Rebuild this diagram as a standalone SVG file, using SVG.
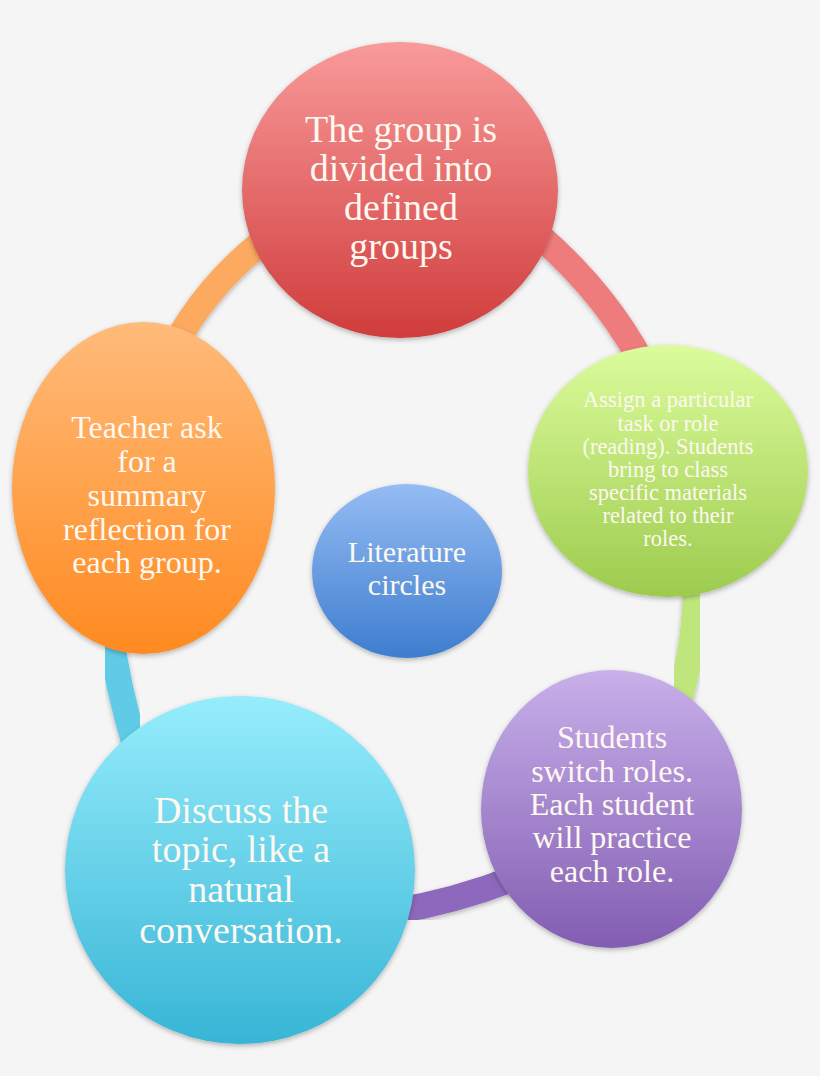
<svg xmlns="http://www.w3.org/2000/svg" width="820" height="1076" viewBox="0 0 820 1076">
<defs>
<filter id="sh" x="-20%" y="-20%" width="140%" height="140%">
<feDropShadow dx="0" dy="2" stdDeviation="2.5" flood-color="#000" flood-opacity="0.28"/>
</filter>
<linearGradient id="gRed" x1="0" y1="0" x2="0" y2="1"><stop offset="0" stop-color="#f99a9a"/><stop offset="1" stop-color="#d03c3c"/></linearGradient>
<linearGradient id="gGreen" x1="0" y1="0" x2="0" y2="1"><stop offset="0" stop-color="#dcfc9c"/><stop offset="1" stop-color="#9dcb4e"/></linearGradient>
<linearGradient id="gPurple" x1="0" y1="0" x2="0" y2="1"><stop offset="0" stop-color="#c8b0ea"/><stop offset="1" stop-color="#825db2"/></linearGradient>
<linearGradient id="gCyan" x1="0" y1="0" x2="0" y2="1"><stop offset="0" stop-color="#96edfc"/><stop offset="1" stop-color="#38b5d6"/></linearGradient>
<linearGradient id="gOrange" x1="0" y1="0" x2="0" y2="1"><stop offset="0" stop-color="#ffbb7a"/><stop offset="1" stop-color="#ff8a20"/></linearGradient>
<linearGradient id="gBlue" x1="0" y1="0" x2="0" y2="1"><stop offset="0" stop-color="#95bcf3"/><stop offset="1" stop-color="#3e7dcf"/></linearGradient>
</defs>
<style>
.conn{fill:none;stroke-width:26;filter:url(#sh)}
.node{filter:url(#sh)}
.t{font-family:"Liberation Serif","DejaVu Serif",serif;fill:#fdf8f0;text-anchor:middle}
</style>
<rect x="0" y="0" width="820" height="1076" fill="#f5f5f5"/>
<g id="connectors">
<path class="conn" stroke="#ee7c7c" d="M530,228 Q611,295 652,382"/>
<path class="conn" stroke="#bfe67c" d="M696,575 Q697,640 678,705"/>
<path class="conn" stroke="#8d67bc" d="M520,876 Q455,902 390,912"/>
<path class="conn" stroke="#5ecbe6" d="M135,745 Q117.5,686.5 110,630"/>
<path class="conn" stroke="#fcaa5e" d="M165,365 Q200,287.5 275,232"/>
</g>
<g id="node-red">
<ellipse class="node" cx="400" cy="190" rx="158" ry="148" fill="url(#gRed)"/>
<text class="t" font-size="38" x="401"><tspan x="401" y="142">The group is</tspan><tspan x="401" y="181">divided into</tspan><tspan x="401" y="220">defined</tspan><tspan x="401" y="259">groups</tspan></text>
</g>
<g id="node-green">
<ellipse class="node" cx="668" cy="471" rx="140" ry="126" fill="url(#gGreen)"/>
<text class="t" font-size="22.5" x="668"><tspan x="668" y="407">Assign a particular</tspan><tspan x="668" y="430.5">task or role</tspan><tspan x="668" y="454">(reading). Students</tspan><tspan x="668" y="477">bring to class</tspan><tspan x="668" y="500">specific materials</tspan><tspan x="668" y="523">related to their</tspan><tspan x="668" y="546">roles.</tspan></text>
</g>
<g id="node-purple">
<ellipse class="node" cx="611.5" cy="809" rx="130.5" ry="139" fill="url(#gPurple)"/>
<text class="t" font-size="32" x="612"><tspan x="612" y="748">Students</tspan><tspan x="612" y="782">switch roles.</tspan><tspan x="612" y="815">Each student</tspan><tspan x="612" y="848">will practice</tspan><tspan x="612" y="882">each role.</tspan></text>
</g>
<g id="node-cyan">
<ellipse class="node" cx="240" cy="870" rx="175" ry="174" fill="url(#gCyan)"/>
<text class="t" font-size="38" x="241"><tspan x="241" y="823">Discuss the</tspan><tspan x="241" y="862">topic, like a</tspan><tspan x="241" y="902">natural</tspan><tspan x="241" y="943">conversation.</tspan></text>
</g>
<g id="node-orange">
<ellipse class="node" cx="143.5" cy="488" rx="131.5" ry="166" fill="url(#gOrange)"/>
<text class="t" font-size="32" x="147"><tspan x="147" y="438">Teacher ask</tspan><tspan x="147" y="472">for a</tspan><tspan x="147" y="506">summary</tspan><tspan x="147" y="540">reflection for</tspan><tspan x="147" y="573">each group.</tspan></text>
</g>
<g id="node-center">
<ellipse class="node" cx="407" cy="571" rx="95" ry="87" fill="url(#gBlue)"/>
<text class="t" font-size="30" x="407"><tspan x="407" y="562">Literature</tspan><tspan x="407" y="595">circles</tspan></text>
</g>
</svg>
